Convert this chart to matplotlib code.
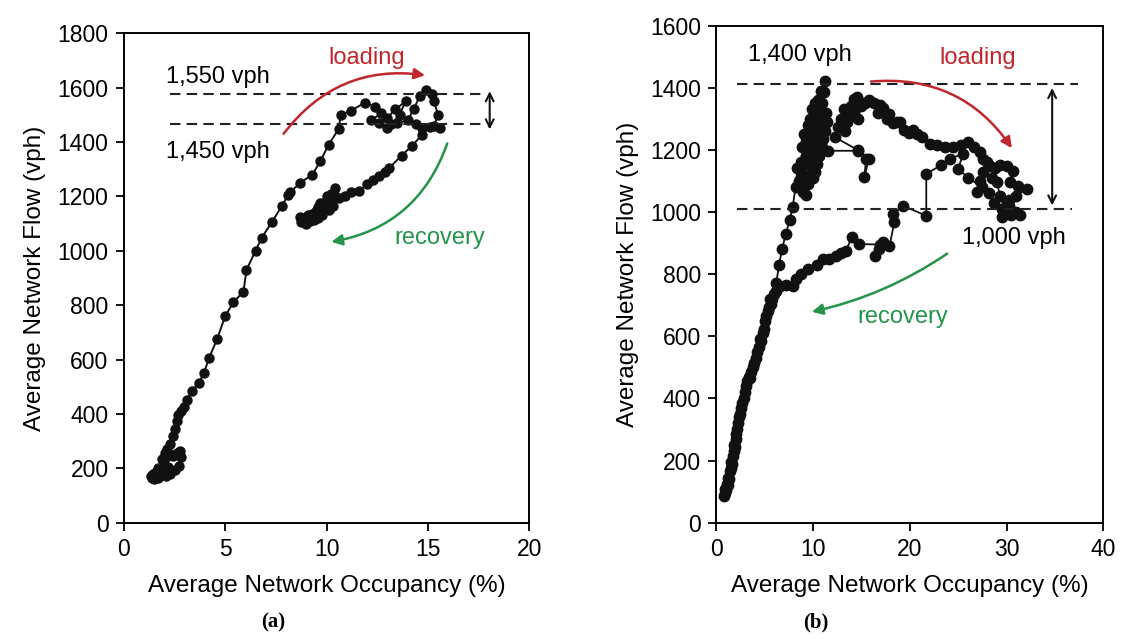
import matplotlib.pyplot as plt

plt.rcParams['font.family'] = ['Liberation Sans', 'DejaVu Sans']

# ---- panel (a) data: occupancy (%) vs flow (vph), in time order
occ_a = [1.35, 1.5, 1.7, 1.9, 2.1, 2.3, 2.0, 1.8, 1.6, 1.45, 1.4, 1.7, 2.0, 2.2, 2.5, 2.7,
         2.8, 2.75, 2.6, 2.4, 2.2, 2.1, 1.9, 2.05, 2.15, 2.3, 2.4, 2.5, 2.6, 2.65, 2.8, 2.95,
         3.1, 3.35, 3.7, 3.95, 4.2, 4.6, 5.0, 5.4, 5.9, 6.05, 6.5, 6.8, 7.3, 7.8, 8.1,
         8.2, 8.7, 9.3, 9.7, 10.1, 10.6, 10.7, 11.2, 11.9, 12.4, 12.7, 12.2, 12.6, 13.0,
         13.4, 13.9, 13.6, 13.2, 13.0, 13.5, 14.0, 14.3, 14.6, 14.9, 15.2, 15.3, 15.5,
         15.3, 15.6, 15.1, 14.7, 14.4, 14.7, 14.2, 13.7, 13.1, 12.9, 12.6, 12.3, 12.0,
         11.6, 11.2, 10.9, 10.6, 10.4, 10.2, 10.0, 9.9, 9.7, 9.6, 9.5, 9.3, 9.1, 8.9,
         8.7, 8.75, 9.0, 9.2, 9.4, 9.6, 9.8, 10.0, 10.2, 10.4, 10.3, 10.1, 9.8, 9.5,
         9.2, 8.9]
flow_a = [170, 160, 165, 175, 170, 180, 195, 190, 185, 180, 165, 200, 215, 205, 195, 210,
          240, 265, 255, 245, 255, 240, 235, 255, 270, 290, 320, 345, 375, 395, 410, 425,
          450, 485, 515, 550, 605, 675, 760, 810, 850, 930, 1000, 1048, 1105, 1165, 1205,
          1215, 1250, 1280, 1330, 1390, 1448, 1500, 1515, 1545, 1530, 1505, 1480, 1470, 1490,
          1520, 1550, 1500, 1465, 1450, 1470, 1480, 1520, 1570, 1590, 1575, 1550, 1500,
          1460, 1450, 1455, 1450, 1465, 1425, 1385, 1350, 1305, 1290, 1275, 1260, 1245,
          1220, 1215, 1200, 1195, 1230, 1210, 1200, 1180, 1175, 1160, 1145, 1135, 1130, 1120,
          1125, 1105, 1100, 1110, 1115, 1120, 1140, 1155, 1180, 1200, 1165, 1150, 1130, 1120,
          1115, 1110]

# ---- panel (b) data
occ_b = [0.85, 0.95, 0.9, 1.05, 1.1, 1.2, 1.25, 1.35, 1.4, 1.5, 1.55, 1.65, 1.7, 1.8, 1.85,
         1.95, 2.0, 2.1, 2.2, 2.3, 2.35, 2.5, 2.6, 2.7, 2.85, 2.95, 3.1, 3.2, 3.35, 3.5,
         3.65, 3.8, 3.95, 4.1, 4.25, 4.4, 4.5, 4.65, 4.8, 4.95, 5.05, 5.2, 5.35, 5.5, 5.65,
         5.8, 5.95,
         6.2, 6.5, 6.8, 7.2, 7.6, 7.9, 8.2, 8.4, 8.6, 8.8, 8.9, 9.1, 9.3, 9.5, 9.7, 9.9,
         10.2, 10.5, 10.8, 11.2,
         11.1, 10.9, 10.6, 10.3, 10.1, 9.9, 9.7, 9.5, 9.3, 9.1, 8.95, 8.9, 9.0, 9.3, 9.5,
         9.7, 9.9, 10.1, 10.3, 10.5, 10.7, 10.9, 11.1, 11.3, 11.4, 11.2, 11.0, 10.8, 10.6,
         10.4, 10.2, 10.0, 9.8, 10.0, 10.2, 10.4, 10.6,
         11.6, 14.7, 15.5, 15.3, 15.8, 14.6,
         12.3, 12.6, 12.9, 13.2, 13.5, 13.3, 13.6, 13.9, 14.2, 14.5, 14.2, 14.6, 15.0, 15.4,
         15.8, 16.3, 16.7, 16.9, 17.2, 17.6, 17.9, 18.3, 18.7, 18.95, 19.4, 19.9, 20.3, 20.7,
         21.3, 22.06, 22.8, 23.6, 24.5, 25.3, 26.0, 26.6, 27.2, 27.6, 28.0, 28.3, 28.8, 29.3,
         30.0, 30.7, 30.3, 31.2, 32.1, 31.0, 30.2, 29.3, 29.0, 28.5, 27.6, 27.3, 26.9, 27.5,
         28.2, 28.7, 29.5, 30.2, 31.0, 31.4, 30.4, 29.5, 30.0,
         26.0, 25.0, 25.5, 24.1, 23.2, 21.7, 21.7,
         19.3, 18.3, 18.4, 17.9, 17.2, 16.8, 16.4, 16.9, 14.8, 14.0, 13.4, 12.9, 12.4, 11.7,
         11.0, 10.4, 9.47, 8.8, 8.2, 7.9, 7.2, 6.6, 6.2, 5.6]
flow_b = [85, 95, 110, 105, 125, 120, 145, 140, 165, 175, 195, 190, 215, 230, 250,
          245, 270, 285, 300, 320, 340, 350, 370, 385, 400, 420, 440, 455, 470, 465,
          485, 500, 515, 530, 550, 565, 590, 585, 610, 625, 650, 665, 680, 695, 705,
          720, 735,
          770, 830, 880, 930, 975, 1015, 1080, 1140, 1100, 1160, 1210, 1250, 1230, 1280, 1300, 1330,
          1350, 1360, 1390, 1420,
          1385, 1350, 1325, 1300, 1275, 1255, 1230, 1205, 1180, 1150, 1120, 1090, 1065, 1055, 1090,
          1120, 1150, 1175, 1200, 1225, 1250, 1275, 1300, 1320, 1290, 1260, 1235, 1205, 1180,
          1155, 1130, 1110, 1180, 1220, 1250, 1280, 1300,
          1197, 1197, 1172, 1113, 1172, 1200,
          1240, 1275, 1300, 1330, 1290, 1260, 1310, 1340, 1365, 1370, 1320, 1300, 1340, 1350,
          1360, 1350, 1320, 1345, 1335, 1300, 1315, 1285, 1290, 1290, 1265, 1255, 1265, 1252,
          1240, 1219, 1215, 1209, 1210, 1215, 1225, 1210, 1193, 1170, 1160, 1149, 1140, 1150,
          1149, 1133, 1096, 1085, 1074, 1053, 1040, 1053, 1096, 1110, 1129, 1100, 1064, 1080,
          1060, 1030, 1010, 1020, 1000, 990, 990, 985, 1030,
          1110, 1139, 1187, 1171, 1150, 1123, 988,
          1020, 993, 967, 890, 903, 880, 859, 895, 897, 918, 875, 868, 859, 850,
          848, 830, 816, 800, 785, 762, 765, 762, 745, 720]

red = '#c0262c'
green = '#23944a'

fig = plt.figure(figsize=(11.26, 6.39), dpi=100)
ax1 = fig.add_axes([0.110, 0.182, 0.360, 0.766])
ax2 = fig.add_axes([0.636, 0.182, 0.344, 0.778])

for ax in (ax1, ax2):
    ax.tick_params(direction='out', length=6, width=1.3, labelsize=16.5, pad=5)
    for s in ax.spines.values():
        s.set_linewidth(1.4)
    ax.set_xlabel('Average Network Occupancy (%)', fontsize=17.5, labelpad=10)
    ax.set_ylabel('Average Network Flow (vph)', fontsize=17.5, labelpad=8)

# (a)
ax1.plot(occ_a, flow_a, '-o', color='#111111', lw=1.4, ms=6.5, mec='#111111')
ax1.set_xlim(0, 20)
ax1.set_ylim(0, 1800)
ax1.set_xticks([0, 5, 10, 15, 20])
ax1.set_yticks(range(0, 1801, 200))
ax1.plot([2.3, 17.7], [1575, 1575], '--', color='#222222', lw=1.5, dashes=(5, 3))
ax1.plot([2.3, 17.7], [1465, 1465], '--', color='#222222', lw=1.5, dashes=(5, 3))
ax1.annotate('', xy=(18.05, 1597), xytext=(18.05, 1436),
             arrowprops=dict(arrowstyle='<->', color='#111111', lw=1.5, mutation_scale=14))
ax1.text(2.1, 1640, '1,550 vph', fontsize=17, va='center')
ax1.text(2.1, 1365, '1,450 vph', fontsize=17, va='center')
ax1.text(12.0, 1710, 'loading', fontsize=17, color=red, ha='center', va='center')
ax1.text(15.6, 1046, 'recovery', fontsize=17, color=green, ha='center', va='center')
ax1.annotate('', xy=(15.0, 1644), xytext=(7.8, 1422),
             arrowprops=dict(arrowstyle='-|>', color=red, lw=1.8, mutation_scale=16,
                             connectionstyle='arc3,rad=-0.3'))
ax1.annotate('', xy=(10.1, 1031), xytext=(16.0, 1404),
             arrowprops=dict(arrowstyle='-|>', color=green, lw=1.8, mutation_scale=16,
                             connectionstyle='arc3,rad=-0.3'))

# (b)
ax2.plot(occ_b, flow_b, '-o', color='#111111', lw=1.3, ms=7.5, mec='#111111')
ax2.set_xlim(0, 40)
ax2.set_ylim(0, 1600)
ax2.set_xticks([0, 10, 20, 30, 40])
ax2.set_yticks(range(0, 1601, 200))
ax2.plot([2.2, 37.4], [1412, 1412], '--', color='#222222', lw=1.5, dashes=(5, 3))
ax2.plot([2.2, 36.8], [1010, 1010], '--', color='#222222', lw=1.5, dashes=(5, 3))
ax2.annotate('', xy=(34.7, 1408), xytext=(34.7, 1012),
             arrowprops=dict(arrowstyle='<->', color='#111111', lw=1.5, mutation_scale=14))
ax2.text(3.3, 1506, '1,400 vph', fontsize=17, va='center')
ax2.text(25.4, 916, '1,000 vph', fontsize=17, va='center')
ax2.text(27.0, 1494, 'loading', fontsize=17, color=red, ha='center', va='center')
ax2.text(19.3, 661, 'recovery', fontsize=17, color=green, ha='center', va='center')
ax2.annotate('', xy=(30.7, 1198), xytext=(15.7, 1419),
             arrowprops=dict(arrowstyle='-|>', color=red, lw=1.8, mutation_scale=16,
                             connectionstyle='arc3,rad=-0.3'))
ax2.annotate('', xy=(9.6, 677), xytext=(24.1, 871),
             arrowprops=dict(arrowstyle='-|>', color=green, lw=1.8, mutation_scale=16,
                             connectionstyle='arc3,rad=-0.1'))

fig.text(0.2425, 0.018, '(a)', fontsize=15, fontweight='bold',
         family=['Liberation Serif', 'DejaVu Serif'], ha='center')
fig.text(0.7245, 0.018, '(b)', fontsize=15, fontweight='bold',
         family=['Liberation Serif', 'DejaVu Serif'], ha='center')

fig.savefig('out.png', dpi=100)
